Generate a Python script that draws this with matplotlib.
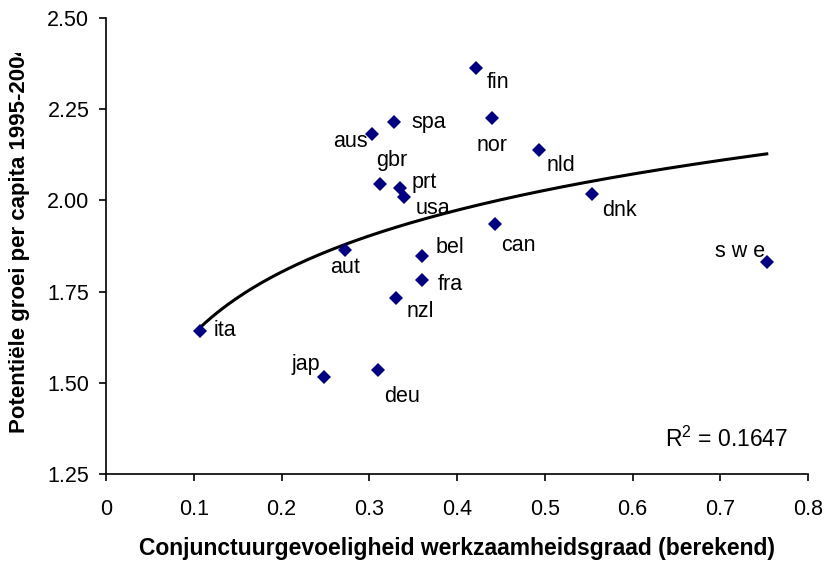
import numpy as np
import matplotlib
matplotlib.use("Agg")
import matplotlib.pyplot as plt
from matplotlib.transforms import Bbox, TransformedBbox

plt.rcParams['font.family'] = ['Liberation Sans', 'DejaVu Sans']
plt.rcParams['mathtext.fontset'] = 'custom'
plt.rcParams['mathtext.rm'] = 'Liberation Sans'
plt.rcParams['mathtext.it'] = 'Liberation Sans'

# country codes, x = cyclical sensitivity of employment rate, y = potential growth per capita
countries = ["ita", "jap", "deu", "nzl", "aut", "aus", "spa", "gbr", "prt", "usa",
             "fin", "nor", "nld", "dnk", "can", "bel", "fra", "s w e"]
sens = [0.107, 0.249, 0.310, 0.331, 0.272, 0.303, 0.328, 0.312, 0.335, 0.340,
        0.422, 0.440, 0.493, 0.554, 0.443, 0.360, 0.360, 0.753]
growth = [1.643, 1.517, 1.534, 1.732, 1.864, 2.181, 2.214, 2.044, 2.035, 2.009,
          2.362, 2.225, 2.137, 2.018, 1.934, 1.848, 1.782, 1.830]
# label offsets in pixels (dx, dy, ha)
offsets = [(14, 0, "left"), (-4, 12, "right"), (6, -26, "left"), (10, -13, "left"),
           (0, -17, "center"), (-4, -7, "right"), (18, 0, "left"), (12, 24, "center"),
           (12, 5, "left"), (11, -11, "left"), (10, -14, "left"), (0, -27, "center"),
           (8, -15, "left"), (10, -17, "left"), (6, -21, "left"), (14, 8, "left"),
           (16, -5, "left"), (-2, 11, "right")]

x = np.array(sens)
y = np.array(growth)
a, b = np.polyfit(np.log(x), y, 1)
xs = np.linspace(x.min(), x.max(), 200)

fig = plt.figure(figsize=(8.24, 5.62), dpi=100)
ax = fig.add_axes([106 / 824, 1 - 474 / 562, 702 / 824, 456 / 562])

ax.plot(xs, a * np.log(xs) + b, color="black", lw=2.2, zorder=2)
ax.plot(x, y, linestyle="none", marker="D", ms=7.3, color="#000080",
        markeredgewidth=0, zorder=3)

for name, xi, yi, (dx, dy, ha) in zip(countries, sens, growth, offsets):
    ax.annotate(name, (xi, yi), xytext=(dx, dy), textcoords="offset pixels",
                ha=ha, va="center", fontsize=15.5)

ax.text(0.637, 1.346, r"R$^{2}$ = 0.1647", fontsize=16.5, ha="left", va="center")

ax.set_xlim(0, 0.8)
ax.set_ylim(1.25, 2.50)
xticks = [0, 0.1, 0.2, 0.3, 0.4, 0.5, 0.6, 0.7, 0.8]
xlabels = ["0", "0.1", "0.2", "0.3", "0.4", "0.5", "0.6", "0.7", "0.8"]
yticks = [1.25, 1.50, 1.75, 2.00, 2.25, 2.50]
ylabels = ["1.25", "1.50", "1.75", "2.00", "2.25", "2.50"]
ax.set_xticks(xticks, xlabels)
ax.set_yticks(yticks, ylabels)
ax.tick_params(axis="both", direction="out", length=5, width=1.2, labelsize=15.5)
ax.tick_params(axis="x", pad=13)
ax.tick_params(axis="y", pad=7)
for s in ["top", "right"]:
    ax.spines[s].set_visible(False)
for s in ["left", "bottom"]:
    ax.spines[s].set_linewidth(1.2)

fig.text(457 / 824, 1 - 549 / 562, "Conjunctuurgevoeligheid werkzaamheidsgraad (berekend)",
         ha="center", va="center", fontsize=16.5, fontweight="bold")
ylab = fig.text(20 / 824, 1 - 433 / 562, "Potentiële groei per capita 1995-2004",
                ha="center", va="bottom", rotation=90, fontsize=16, fontweight="bold")
# the reference cuts the axis title off near the top of the plot
ylab.set_clip_box(TransformedBbox(Bbox([[0, 0], [1, 1 - 53 / 562]]), fig.transFigure))
ylab.set_clip_on(True)

fig.savefig("out.png", dpi=100)
